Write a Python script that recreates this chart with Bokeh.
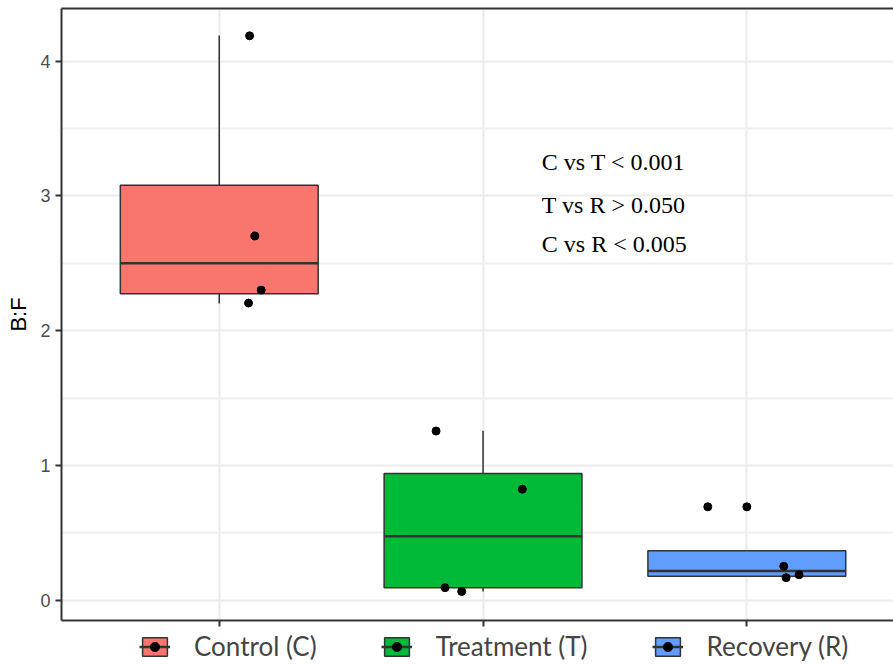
from bokeh.plotting import figure
from bokeh.layouts import column
from bokeh.models import (Range1d, FixedTicker, LinearAxis, Legend, LegendItem,
                          ColumnDataSource)
from bokeh.core.properties import value
from bokeh.embed import file_html
from bokeh.resources import INLINE

# ---- data ----
groups = ["Control (C)", "Treatment (T)", "Recovery (R)"]
group_pos = [1, 2, 3]
colors = ["#F8766D", "#00BA38", "#619CFF"]
q1 = [2.274, 0.092, 0.176]
median = [2.500, 0.473, 0.216]
q3 = [3.080, 0.940, 0.365]
whisker_low = [2.202, 0.064, 0.176]
whisker_high = [4.191, 1.257, 0.365]
outlier_group = [3]
outlier_value = [0.692]
point_group = [1, 1, 1, 1, 2, 2, 2, 2, 3, 3, 3, 3]
point_value = [4.189, 2.703, 2.301, 2.205, 1.255, 0.823, 0.092, 0.064, 0.692, 0.250, 0.166, 0.188]
point_jitter = [0.115, 0.135, 0.159, 0.111, -0.178, 0.149, -0.144, -0.081, -0.148, 0.140, 0.149, 0.198]
y_ticks = [0, 1, 2, 3, 4]
y_minor = [0.5, 1.5, 2.5, 3.5]
annot_text = ["C vs T < 0.001", "T vs R > 0.050", "C vs R < 0.005"]
annot_x = [2.223, 2.223, 2.223]
annot_y = [3.256, 2.934, 2.641]

BOX_W = 0.75
DARK = "#333333"

p = figure(width=893, height=628, output_backend="svg", toolbar_location=None,
           x_range=Range1d(0.402, 3.556), y_range=Range1d(-0.152, 4.392),
           min_border_left=61, min_border_right=0, min_border_top=8,
           min_border_bottom=8, background_fill_color="white",
           border_fill_color="white")
p.outline_line_color = None

# axes
p.xaxis.ticker = FixedTicker(ticks=group_pos)
p.xaxis.major_label_overrides = {1: "", 2: "", 3: ""}
p.xaxis.major_label_text_font_size = "1px"
p.xaxis.major_label_standoff = 0
p.xaxis.major_tick_out = 6
p.xaxis.major_tick_in = 0
p.xaxis.minor_tick_out = 0
p.xaxis.minor_tick_in = 0
p.xaxis.axis_line_color = DARK
p.xaxis.axis_line_width = 2
p.xaxis.major_tick_line_color = DARK
p.xaxis.major_tick_line_width = 2

p.yaxis.ticker = FixedTicker(ticks=y_ticks, minor_ticks=y_minor)
p.yaxis.major_tick_out = 6
p.yaxis.major_tick_in = 0
p.yaxis.minor_tick_out = 0
p.yaxis.minor_tick_in = 0
p.yaxis.axis_line_color = DARK
p.yaxis.axis_line_width = 2
p.yaxis.major_tick_line_color = DARK
p.yaxis.major_tick_line_width = 2
p.yaxis.major_label_text_font = "Liberation Sans"
p.yaxis.major_label_text_font_size = "18px"
p.yaxis.major_label_text_color = "#4d4d4d"
p.yaxis.major_label_standoff = 5
p.yaxis.axis_label = "B:F"
p.yaxis.axis_label_text_font = "Liberation Sans"
p.yaxis.axis_label_text_font_style = "normal"
p.yaxis.axis_label_text_font_size = "22px"
p.yaxis.axis_label_text_color = "black"
p.yaxis.axis_label_standoff = 6

top_axis = LinearAxis(ticker=FixedTicker(ticks=[]), major_label_standoff=0,
                      major_tick_out=0, major_tick_in=0,
                      minor_tick_out=0, minor_tick_in=0,
                      axis_line_color=DARK, axis_line_width=2)
p.add_layout(top_axis, "above")

# grids
p.xgrid.ticker = FixedTicker(ticks=group_pos)
p.ygrid.ticker = FixedTicker(ticks=y_ticks, minor_ticks=y_minor)
p.xgrid.grid_line_color = "#ebebeb"
p.xgrid.grid_line_width = 2
p.ygrid.grid_line_color = "#ebebeb"
p.ygrid.grid_line_width = 2
p.ygrid.minor_grid_line_color = "#f0f0f0"
p.ygrid.minor_grid_line_width = 2

# whiskers
wsrc = ColumnDataSource(dict(
    x=group_pos + group_pos,
    y0=q3 + q1,
    y1=whisker_high + whisker_low,
))
p.segment(x0="x", x1="x", y0="y0", y1="y1", source=wsrc, line_color=DARK, line_width=1.5)

# ---- legend strip below the plot (same sources, ranges keep marks out of view) ----
lg = figure(width=893, height=40, output_backend="svg", toolbar_location=None,
            x_range=Range1d(100, 101), y_range=Range1d(100, 101),
            min_border_left=0, min_border_right=0, min_border_top=0,
            min_border_bottom=0, background_fill_color="white",
            border_fill_color="white")
lg.outline_line_color = None
lg.axis.visible = False
lg.grid.visible = False
legend_items = []

for i, g in enumerate(groups):
    x = group_pos[i]
    bsrc = ColumnDataSource(dict(left=[x - BOX_W / 2], right=[x + BOX_W / 2],
                                 bottom=[q1[i]], top=[q3[i]]))
    box_kw = dict(left="left", right="right", bottom="bottom", top="top", source=bsrc,
                  fill_color=colors[i], line_color=DARK, line_width=1.5)
    p.quad(**box_kw)
    msrc = ColumnDataSource(dict(x0=[x - BOX_W / 2], x1=[x + BOX_W / 2],
                                 y=[median[i]]))
    med_kw = dict(x0="x0", x1="x1", y0="y", y1="y", source=msrc,
                  line_color=DARK, line_width=2.5)
    p.segment(**med_kw)
    px = [group_pos[gi - 1] + j for gi, j in zip(point_group, point_jitter) if gi == x]
    py = [v for gi, v in zip(point_group, point_value) if gi == x]
    ox = [group_pos[gi - 1] for gi in outlier_group if gi == x]
    oy = [v for gi, v in zip(outlier_group, outlier_value) if gi == x]
    psrc = ColumnDataSource(dict(x=ox + px, y=oy + py))
    pts_kw = dict(x="x", y="y", source=psrc, size=8, fill_color="black",
                  line_color="black")
    p.scatter(**pts_kw)

    lb = lg.quad(**box_kw)
    lm = lg.segment(**med_kw)
    lp = lg.scatter(**pts_kw)
    legend_items.append(LegendItem(label=g, renderers=[lb, lm, lp]))

p.text(x=annot_x, y=annot_y, text=annot_text, text_font=value("Liberation Serif"),
       text_font_size="24px", text_baseline="middle", text_align="left",
       text_color="black")

legend = Legend(items=legend_items, orientation="horizontal", location=(78, 6),
                spacing=64, label_standoff=24, glyph_width=31, glyph_height=23,
                label_text_font="Lato", label_text_font_size="26px",
                label_text_baseline="middle",
                border_line_color=None, background_fill_alpha=0,
                padding=0, margin=0)
lg.add_layout(legend, "center")

layout = column(p, lg, spacing=0)
open("out.html", "w").write(file_html(layout, INLINE))
